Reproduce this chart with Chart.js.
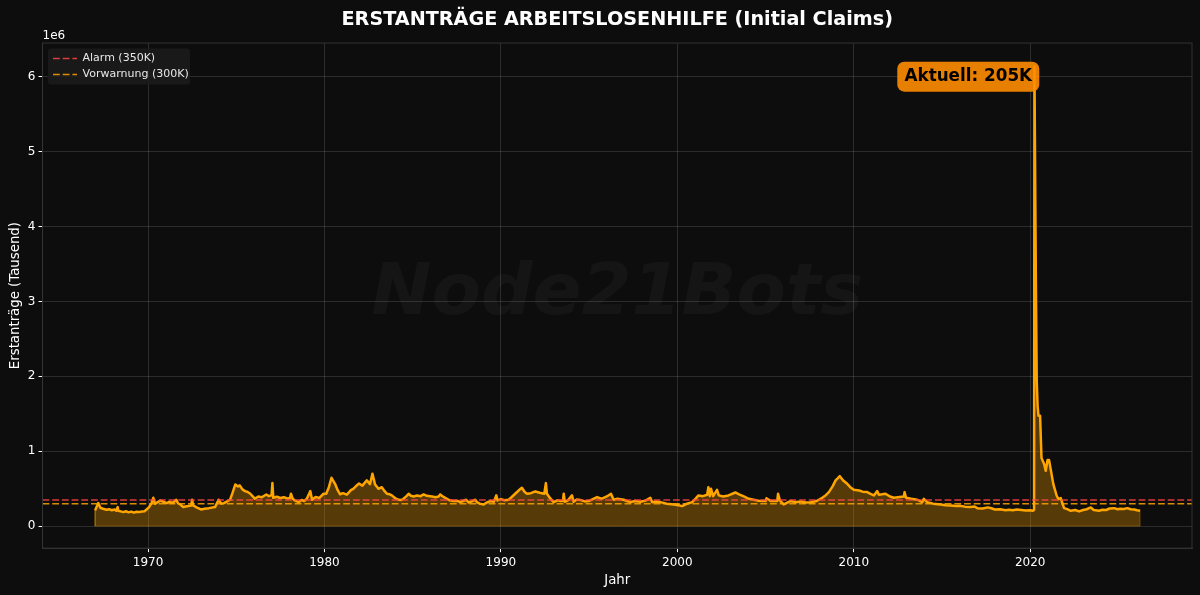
<!DOCTYPE html>
<html><head><meta charset="utf-8">
<style>html,body{margin:0;padding:0;background:#0d0d0d}#w{width:1200px;height:595px;position:relative}</style>
<script src="https://cdn.jsdelivr.net/npm/chart.js@4/dist/chart.umd.min.js"></script>
</head><body><div id="w"><canvas id="c" width="1200" height="595"></canvas></div>
<script>
const years=[
1967.0,1967.18,1967.3,1967.45,1967.65,1967.8,1967.95,1968.1,1968.2,1968.28,
1968.32,1968.45,1968.6,1968.75,1968.9,1969.05,1969.2,1969.35,1969.5,1969.65,
1969.8,1969.9,1970.05,1970.2,1970.3,1970.4,1970.55,1970.7,1970.9,1971.05,
1971.2,1971.4,1971.6,1971.7,1971.85,1972.0,1972.2,1972.45,1972.5,1972.56,
1972.75,1973.0,1973.2,1973.45,1973.8,1974.0,1974.15,1974.3,1974.65,1974.8,
1974.95,1975.1,1975.2,1975.35,1975.5,1975.65,1975.8,1975.95,1976.05,1976.25,
1976.45,1976.7,1976.85,1977.0,1977.05,1977.1,1977.3,1977.5,1977.7,1977.9,
1978.05,1978.1,1978.2,1978.35,1978.55,1978.7,1978.85,1979.0,1979.2,1979.3,
1979.5,1979.7,1979.95,1980.1,1980.25,1980.4,1980.6,1980.75,1980.89,1981.05,
1981.27,1981.5,1981.65,1981.83,1981.96,1982.15,1982.4,1982.58,1982.72,1982.87,
1983.06,1983.25,1983.4,1983.54,1983.7,1983.82,1984.0,1984.2,1984.35,1984.48,
1984.65,1984.77,1984.9,1985.05,1985.25,1985.45,1985.62,1985.8,1986.09,1986.3,
1986.47,1986.56,1986.75,1986.94,1987.1,1987.32,1987.5,1987.7,1987.85,1988.03,
1988.17,1988.35,1988.55,1988.64,1988.8,1989.02,1989.2,1989.4,1989.6,1989.74,
1989.81,1990.0,1990.2,1990.44,1990.6,1990.81,1991.0,1991.19,1991.35,1991.48,
1991.7,1991.95,1992.2,1992.46,1992.55,1992.61,1992.8,1992.99,1993.2,1993.4,
1993.52,1993.56,1993.62,1993.8,1994.03,1994.12,1994.3,1994.5,1994.75,1994.97,
1995.15,1995.45,1995.7,1996.0,1996.24,1996.39,1996.6,1996.96,1997.15,1997.34,
1997.6,1997.9,1998.2,1998.47,1998.57,1998.8,1999.04,1999.4,1999.8,2000.05,
2000.27,2000.5,2000.84,2001.05,2001.2,2001.45,2001.69,2001.76,2001.84,2001.91,
2002.03,2002.25,2002.35,2002.6,2002.9,2003.29,2003.5,2003.77,2004.05,2004.33,
2004.6,2005.0,2005.05,2005.3,2005.66,2005.71,2005.81,2006.03,2006.2,2006.41,
2006.7,2006.98,2007.25,2007.55,2007.9,2008.21,2008.4,2008.59,2008.8,2008.97,
2009.1,2009.21,2009.4,2009.63,2009.8,2010.0,2010.3,2010.5,2010.76,2010.95,
2011.14,2011.33,2011.42,2011.6,2011.8,2012.05,2012.27,2012.5,2012.84,2012.88,
2012.96,2013.25,2013.6,2013.88,2013.97,2014.16,2014.5,2014.92,2015.2,2015.5,
2015.8,2016.0,2016.3,2016.6,2016.85,2017.0,2017.3,2017.6,2017.8,2018.0,
2018.3,2018.6,2018.8,2019.0,2019.25,2019.5,2019.75,2020.0,2020.15,2020.22,
2020.24,2020.28,2020.32,2020.37,2020.42,2020.47,2020.56,2020.64,2020.79,2020.88,
2020.98,2021.07,2021.16,2021.31,2021.5,2021.6,2021.73,2021.92,2022.1,2022.3,
2022.55,2022.77,2023.0,2023.2,2023.43,2023.6,2023.9,2024.1,2024.3,2024.5,
2024.76,2024.95,2025.1,2025.3,2025.5,2025.7,2025.9,2026.05,2026.23];
const claimsK=[
209,307,245,232,218,226,212,222,205,254,
205,197,187,198,184,194,180,192,187,196,
200,218,250,307,378,298,320,343,322,307,
325,310,352,305,285,254,265,276,352,276,
250,222,232,240,254,352,300,307,352,450,
556,530,543,490,467,455,432,395,365,395,
385,423,400,410,575,378,392,375,385,370,
374,432,365,340,320,350,335,365,467,352,
390,375,432,432,520,645,565,480,425,440,
420,480,500,543,570,540,610,560,699,556,
498,520,470,432,425,410,375,352,348,365,
400,432,405,396,408,400,423,405,396,385,
396,423,390,365,345,334,340,320,335,352,
316,330,352,320,300,289,315,334,325,410,
343,360,345,352,385,432,475,512,455,432,
440,463,445,432,574,432,370,320,345,335,
340,432,325,345,410,325,355,350,330,334,
355,387,365,396,432,352,365,352,335,320,
335,325,340,378,320,330,320,300,289,280,
267,295,320,370,410,400,418,520,400,498,
400,485,410,395,410,449,425,396,365,352,
340,334,372,335,334,432,343,289,310,334,
320,330,315,320,335,378,410,454,530,610,
640,667,610,565,520,485,475,460,454,430,
410,467,420,425,432,395,378,385,396,454,
378,365,352,320,365,320,300,289,280,275,
268,272,260,255,262,240,235,250,238,222,
225,212,218,212,222,215,208,212,205,215,
6137,4700,3300,1940,1600,1473,1473,908,828,739,
881,881,761,561,405,360,374,240,227,205,
215,196,215,225,249,215,205,218,215,235,
240,225,232,228,240,225,222,212,205];
const alarmLevel=[350000,350000];
const warnLevel=[300000,300000];
const xRange=[1964.02,2029.17];
const yRange=[-294000,6449000];
const xTicks=[1970,1980,1990,2000,2010,2020];
const yTicks=[0,1,2,3,4,5,6];
const FONT='"DejaVu Sans"';
const DASH=[6.8,2.9];
const decorate={
 id:'decorate',
 beforeDraw(ch){
  const c=ch.ctx;c.save();c.fillStyle='#0d0d0d';c.fillRect(0,0,ch.width,ch.height);c.restore();
 },
 afterLayout(ch){
  const l=ch.legend;
  if(l&&!l._wrapped){
   const orig=l.draw.bind(l);
   l.draw=function(){
    const c=ch.ctx,a=ch.chartArea;
    c.save();
    c.beginPath();c.roundRect(a.left+5.5,a.top+5.5,142,36,3);
    c.fillStyle='rgba(28,28,28,0.85)';c.fill();
    c.translate(5.5,48);
    orig();
    c.restore();
   };
   l._wrapped=true;
  }
 },
 beforeDatasetsDraw(ch){
  const c=ch.ctx,a=ch.chartArea;
  c.save();
  c.font='italic bold 72px '+FONT;
  c.fillStyle='rgba(255,255,255,0.035)';
  c.textAlign='center';c.textBaseline='middle';
  c.fillText('Node21Bots',(a.left+a.right)/2,(a.top+a.bottom)/2);
  c.restore();
 },
 afterDatasetsDraw(ch){
  const c=ch.ctx,a=ch.chartArea;
  const xs=ch.scales.x,ys=ch.scales.y;
  c.save();
  c.strokeStyle='#333333';c.lineWidth=1;
  c.strokeRect(a.left,a.top,a.right-a.left,a.bottom-a.top);
  c.font='12px '+FONT;c.fillStyle='#ffffff';c.textAlign='left';c.textBaseline='alphabetic';
  c.fillText('1e6',a.left,39);
  const cx=xs.getPixelForValue(2016.49),cy=ys.getPixelForValue(6000000);
  const w=142,h=30;
  c.beginPath();c.roundRect(cx-w/2,cy-h/2,w,h,7);
  c.fillStyle='rgba(255,140,0,0.9)';c.fill();
  c.font='bold 16.8px '+FONT;c.fillStyle='#000000';c.textAlign='center';c.textBaseline='middle';
  c.fillText('Aktuell: 205K',cx,cy);
  c.restore();
 }
};
const pts=(ys)=>xRange.map((x,i)=>({x,y:ys[i]}));
const series=years.map((x,i)=>({x,y:claimsK[i]*1000}));
const lastY=series[series.length-1];
const edge=[series[0],{x:years[0],y:0},{x:lastY.x,y:0},lastY];
new Chart(document.getElementById('c'),{
 type:'line',
 data:{datasets:[
  {label:'Alarm (350K)',data:pts(alarmLevel),borderColor:'rgba(255,68,68,0.85)',borderWidth:1.5,borderDash:DASH,pointRadius:0,order:1},
  {label:'Vorwarnung (300K)',data:pts(warnLevel),borderColor:'rgba(255,165,0,0.85)',borderWidth:1.5,borderDash:DASH,pointRadius:0,order:2},
  {label:'Erstanträge',data:series,borderColor:'#FFA500',borderWidth:2.5,borderDash:[100000,0],pointRadius:0,tension:0,fill:{value:0},backgroundColor:'rgba(255,165,0,0.3)',borderJoinStyle:'round',order:3},
  {label:'Kante',data:edge,borderColor:'rgba(255,165,0,0.3)',borderWidth:1,pointRadius:0,tension:0,order:4}
 ]},
 plugins:[decorate],
 options:{
  responsive:false,animation:false,devicePixelRatio:1,
  layout:{padding:{left:0,right:8,top:0,bottom:6.5}},
  plugins:{
   title:{display:true,fullSize:false,text:'ERSTANTRÄGE ARBEITSLOSENHILFE (Initial Claims)',color:'#ffffff',font:{family:FONT,size:19.2,weight:'bold'},padding:{top:8,bottom:12}},
   tooltip:{enabled:false},
   legend:{display:true,position:'chartArea',align:'start',
    labels:{usePointStyle:true,pointStyle:'line',pointStyleWidth:24,boxHeight:11,padding:5,color:'#e8e8e8',font:{family:FONT,size:11},
     generateLabels(chart){
      return Chart.defaults.plugins.legend.labels.generateLabels(chart)
       .filter(item=>item.datasetIndex<2)
       .map(item=>{
        const ds=chart.data.datasets[item.datasetIndex];
        return Object.assign(item,{lineDash:DASH,lineWidth:ds.borderWidth,strokeStyle:ds.borderColor,pointStyle:'line'});
       });
     }}}
  },
  scales:{
   x:{type:'linear',min:xRange[0],max:xRange[1],
    afterBuildTicks(s){s.ticks=xTicks.map(v=>({value:v}));},
    afterFit(s){s.height-=2;},
    ticks:{color:'#ffffff',font:{family:FONT,size:12},maxRotation:0,padding:4,callback:v=>String(v)},
    grid:{color:'rgba(255,255,255,0.13)',lineWidth:1,tickColor:'#ffffff',tickLength:4},
    border:{color:'#333333'},
    title:{display:true,text:'Jahr',color:'#ffffff',font:{family:FONT,size:13.3},padding:{top:0,bottom:0}}},
   y:{type:'linear',min:yRange[0],max:yRange[1],
    afterBuildTicks(s){s.ticks=yTicks.map(v=>({value:v*1000000}));},
    afterFit(s){s.width=42.5;},
    ticks:{color:'#ffffff',font:{family:FONT,size:12},padding:3,callback:v=>String(v/1000000)},
    grid:{color:'rgba(255,255,255,0.13)',lineWidth:1,tickColor:'#ffffff',tickLength:4},
    border:{color:'#333333'},
    title:{display:true,text:'Erstanträge (Tausend)',color:'#ffffff',font:{family:FONT,size:13.3},padding:{top:8,bottom:0}}}
  }
 }
});
</script></body></html>
